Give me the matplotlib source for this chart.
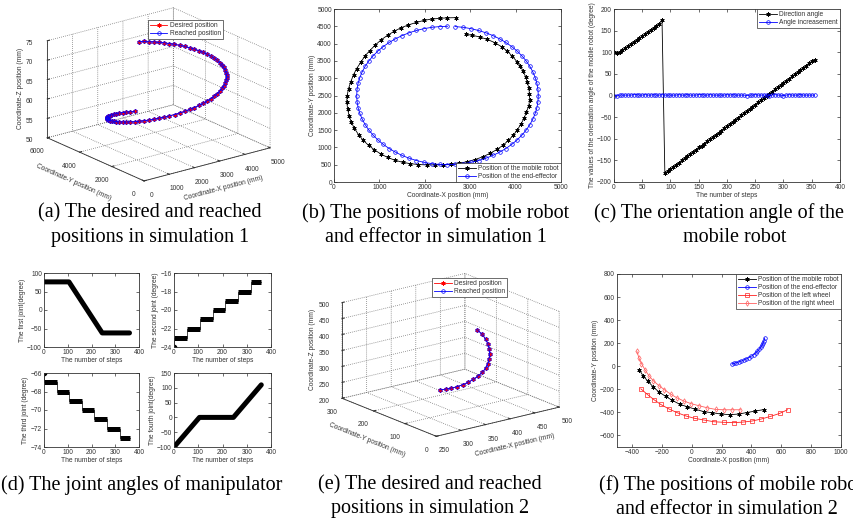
import numpy as np
import matplotlib
matplotlib.use('Agg')
import matplotlib.pyplot as plt

plt.rcParams['font.family'] = ['Liberation Sans', 'DejaVu Sans']
plt.rcParams['font.size'] = 4.8
plt.rcParams['axes.linewidth'] = 0.6
plt.rcParams['grid.linestyle'] = ':'
plt.rcParams['grid.linewidth'] = 0.5
plt.rcParams['grid.color'] = '#777777'

TXT = '#333333'

# (b) mobile robot path, simulation 1 (mm)
robot1_x = [2680, 2500, 2330, 2150, 1980, 1810, 1640, 1480, 1330, 1180, 1040, 910, 790, 680,
            590, 500, 430, 370, 320, 290, 280, 300, 330, 380, 450, 540, 640, 760, 890, 1030,
            1180, 1340, 1510, 1680, 1860, 2040, 2220, 2400, 2580, 2760, 2940, 3110, 3280, 3440,
            3590, 3720, 3840, 3950, 4040, 4120, 4190, 4240, 4290, 4310, 4305, 4290, 4260, 4220,
            4170, 4100, 4030, 3930, 3820, 3690, 3545, 3380, 3210, 3050, 2900]
robot1_y = [4750, 4745, 4730, 4710, 4670, 4610, 4540, 4460, 4360, 4240, 4110, 3960, 3800, 3640,
            3460, 3280, 3100, 2900, 2700, 2500, 2320, 2120, 1920, 1730, 1550, 1370, 1210, 1060,
            930, 810, 710, 630, 570, 530, 505, 495, 495, 500, 510, 540, 590, 650, 730, 830, 940,
            1060, 1200, 1350, 1510, 1680, 1850, 2030, 2200, 2380, 2550, 2720, 2880, 3040, 3200,
            3350, 3480, 3630, 3780, 3910, 4025, 4120, 4190, 4240, 4270]

# (b) end-effector path, simulation 1 (mm)
eff1_x = [2500, 2326, 2153, 1982, 1816, 1655, 1500, 1353, 1214, 1086, 968, 862, 768, 687, 621,
          568, 530, 508, 500, 508, 530, 568, 621, 687, 768, 862, 968, 1086, 1214, 1353, 1500,
          1655, 1816, 1982, 2153, 2326, 2500, 2674, 2847, 3018, 3184, 3345, 3500, 3647, 3786,
          3914, 4032, 4138, 4232, 4313, 4379, 4432, 4470, 4492, 4500, 4492, 4470, 4432, 4379,
          4313, 4232, 4138, 4032, 3914, 3786, 3647, 3500, 3345, 3184, 3018, 2847, 2674]
eff1_y = [4500, 4492, 4470, 4432, 4379, 4313, 4232, 4138, 4032, 3914, 3786, 3647, 3500, 3345,
          3184, 3018, 2847, 2674, 2500, 2326, 2153, 1982, 1816, 1655, 1500, 1353, 1214, 1086,
          968, 862, 768, 687, 621, 568, 530, 508, 500, 508, 530, 568, 621, 687, 768, 862, 968,
          1086, 1214, 1353, 1500, 1655, 1816, 1982, 2153, 2326, 2500, 2674, 2847, 3018, 3184,
          3345, 3500, 3647, 3786, 3914, 4032, 4138, 4232, 4313, 4379, 4432, 4470, 4492]

# (a) height of the desired / reached path (mm), in reversed order of eff1
sim1_z = [73.0, 72.8, 72.5, 72.3, 72.0, 71.8, 71.5, 71.3, 71.0, 70.8, 70.5, 70.3, 70.0, 69.8,
          69.5, 69.3, 69.0, 68.8, 68.5, 68.3, 68.0, 67.8, 67.5, 67.3, 67.0, 66.8, 66.5, 66.3,
          66.0, 65.8, 65.5, 65.3, 65.0, 64.8, 64.5, 64.3, 64.0, 63.8, 63.5, 63.3, 63.0, 62.8,
          62.5, 62.3, 62.0, 61.8, 61.5, 61.3, 61.0, 60.8, 60.5, 60.3, 60.0, 59.8, 59.5, 59.3,
          59.0, 58.8, 58.5, 58.3, 58.0, 57.8, 57.5, 57.3, 57.0, 56.8, 56.5, 56.3, 56.0, 55.8,
          55.5, 55.3]

# (c) orientation angle
steps_c = [0, 5, 10, 15, 20, 25, 30, 35, 40, 45, 50, 55, 60, 65, 70, 75, 80, 85, 90, 95, 100,
           105, 110, 115, 120, 125, 130, 135, 140, 145, 150, 155, 160, 165, 170, 175, 180, 185,
           190, 195, 200, 205, 210, 215, 220, 225, 230, 235, 240, 245, 250, 255, 260, 265, 270,
           275, 280, 285, 290, 295, 300, 305, 310, 315, 320, 325, 330, 335, 340, 345, 350, 355]
direction_angle = [100, 99, 100, 105, 110, 114, 119, 124, 128, 133, 137, 142, 147, 151, 156,
                   161, 166, 175, -180, -175, -170, -165, -160, -155, -150, -145, -140, -135,
                   -130, -125, -120, -116, -111, -106, -101, -96, -91, -86, -81, -76, -71, -66,
                   -61, -56, -51, -46, -41, -36, -31, -26, -21, -16, -11, -6, -1, 4, 9, 14, 19,
                   24, 29, 34, 39, 44, 49, 54, 59, 64, 69, 74, 79, 83]
angle_incr = [0, 0, 1, 1, 1, 1, 1, 2, 2, 1, 1, 2, 1, 1, 2, 1, 1, 2, 1, 1, 1, 1, 1, 2, 1, 1, 2,
              1, 1, 1, 2, 2, 1, 1, 2, 1, 1, 1, 1, 1, 2, 1, 2, 1, 1, 1, 1, 0, 1, 1, 2, 1, 1, 1,
              1, 0, 1, 2, 1, 1, 0, 1, 2, 1, 1, 1, 2, 1, 1, 1, 1, 1]

# (d) joint angles (degree)
j1_steps = [0, 105, 245, 360]
j1_vals = [76, 76, -62, -62]
j2_start = [0, 55, 107, 160, 212, 265, 318]
j2_end = [55, 107, 160, 212, 265, 318, 360]
j2_level = [-23, -22, -21, -20, -19, -18, -17]
j2_first = -24
j3_start = [0, 55, 107, 160, 212, 265, 318]
j3_end = [55, 107, 160, 212, 265, 318, 360]
j3_level = [-67, -68, -69, -70, -71, -72, -73]
j3_first = -66
j4_steps = [0, 105, 245, 360]
j4_vals = [-100, 0, 0, 110]

# (f) simulation 2 paths (mm)
robot2_x = [-351, -324, -291, -256, -218, -173, -129, -78, -29, 20, 82, 138, 196, 256, 316,
            371, 427, 482]
robot2_y = [-29, -86, -132, -181, -224, -262, -296, -331, -351, -371, -394, -403, -414, -420,
            -414, -401, -388, -376]
eff2_x = [271, 285, 300, 316, 333, 350, 367, 384, 400, 415, 428, 440, 452, 462, 471, 478, 484,
          489]
eff2_y = [20, 25, 31, 38, 46, 55, 65, 76, 88, 101, 115, 130, 146, 163, 181, 200, 220, 245]
left_x = [-340, -296, -251, -207, -151, -96, -36, 22, 82, 149, 216, 282, 344, 404, 464, 527,
          589, 642]
left_y = [-196, -245, -291, -331, -371, -403, -432, -452, -466, -481, -486, -489, -484, -475,
          -458, -435, -409, -377]
right_x = [-367, -353, -336, -313, -287, -256, -220, -182, -140, -100, -51, -2, 49, 104, 160,
           216, 271, 327]
right_y = [130, 72, 23, -29, -81, -127, -167, -204, -242, -273, -302, -325, -342, -360, -374,
           -377, -377, -377]

# (e) height of simulation 2 path (mm)
sim2_z = [330, 325, 320, 316, 313, 311, 310, 310, 311, 313, 316, 320, 325, 330, 336, 342, 347,
          350]

STAR = (6, 2, 0)


def style2d(ax):
    ax.tick_params(direction='in', top=True, right=True, length=2, width=0.5, pad=1.5,
                   colors=TXT, labelsize=4.8)
    for s in ax.spines.values():
        s.set_color(TXT)
        s.set_linewidth(0.6)


def style3d(ax):
    ax.patch.set_alpha(0)
    for axis in (ax.xaxis, ax.yaxis, ax.zaxis):
        axis.set_pane_color((1, 1, 1, 0))
        axis.pane.set_edgecolor(TXT)
        axis.line.set_color(TXT)
        axis.line.set_linewidth(0.6)
        axis._axinfo['grid'].update(color='#666666', linestyle=':', linewidth=0.55)
        axis._axinfo['tick']['inward_factor'] = 0.0
        axis._axinfo['tick']['outward_factor'] = 0.2
    ax.tick_params(labelsize=4.8, pad=-2, colors=TXT)


def leg(ax, loc, anchor=None):
    kw = dict(loc=loc, fontsize=4.8, frameon=True, fancybox=False, framealpha=1,
              edgecolor=TXT, borderpad=0.3, labelspacing=0.15, handlelength=2.6,
              handletextpad=0.4, borderaxespad=0)
    if anchor is not None:
        kw['bbox_to_anchor'] = anchor
    lg = ax.legend(**kw)
    lg.get_frame().set_linewidth(0.5)
    for t in lg.get_texts():
        t.set_color(TXT)
    return lg


fig = plt.figure(figsize=(8.54, 5.22), dpi=100)
W, H = 854.0, 522.0


def rect(l, t, r, b):
    return [l / W, 1 - b / H, (r - l) / W, (b - t) / H]


# ---- (a) 3D simulation 1
axa = fig.add_axes(rect(11, -3, 301, 197), projection='3d', proj_type='ortho')
axa.view_init(elev=20, azim=-127.5)
axa.set_box_aspect((4, 4, 2.6), zoom=1.2)
ax_x = eff1_x[::-1]
ax_y = eff1_y[::-1]
axa.plot(ax_x, ax_y, sim1_z, color='red', lw=0.6, marker=STAR, ms=3, mew=0.6,
         label='Desired position')
axa.plot(ax_x, ax_y, sim1_z, color='blue', lw=0.6, marker='o', ms=2.6, mfc='none', mew=0.5,
         label='Reached position')
axa.set_xlim(0, 5000)
axa.set_ylim(0, 6000)
axa.set_zlim(50, 75)
axa.set_xticks([0, 1000, 2000, 3000, 4000, 5000])
axa.set_yticks([0, 2000, 4000, 6000])
axa.set_zticks([50, 55, 60, 65, 70, 75])
axa.set_xlabel('Coordinate-X position (mm)', labelpad=-8, color=TXT)
axa.set_ylabel('Coordinate-Y position (mm)', labelpad=-8, color=TXT)
axa.set_zlabel('Coordinate-Z position (mm)', labelpad=-12, color=TXT)
style3d(axa)
leg(axa, 'upper right', (0.835, 0.885))

# ---- (b) positions in simulation 1
axb = fig.add_axes(rect(334, 9, 561, 182))
axb.plot(robot1_x, robot1_y, color='black', lw=0.6, marker=STAR, ms=3, mew=0.6,
         label='Position of the mobile robot')
axb.plot(eff1_x, eff1_y, color='blue', lw=0.6, marker='o', ms=2.6, mfc='none', mew=0.5,
         label='Position of the end-effector')
axb.set_xlim(0, 5000)
axb.set_ylim(0, 5000)
axb.set_xticks([0, 1000, 2000, 3000, 4000, 5000])
axb.set_yticks(range(0, 5001, 500))
axb.set_xlabel('Coordinate-X position (mm)', labelpad=1, color=TXT)
axb.set_ylabel('Coordinate-Y position (mm)', labelpad=1, color=TXT)
style2d(axb)
leg(axb, 'lower right')

# ---- (c) orientation angle
axc = fig.add_axes(rect(614, 9, 840, 182))
axc.plot(steps_c, direction_angle, color='black', lw=0.6, marker=STAR, ms=3, mew=0.6,
         label='Direction angle')
axc.plot(steps_c, angle_incr, color='blue', lw=0.6, marker='o', ms=2.6, mfc='none', mew=0.5,
         label='Angle increasement')
axc.set_xlim(0, 400)
axc.set_ylim(-200, 200)
axc.set_xticks(range(0, 401, 50))
axc.set_yticks(range(-200, 201, 50))
axc.set_xlabel('The number of steps', labelpad=1, color=TXT)
axc.set_ylabel('The values of the orientation angle of the mobile robot (degree)',
               labelpad=1, color=TXT)
style2d(axc)
leg(axc, 'upper right')

# ---- (d) joint angles
d1 = fig.add_axes(rect(44, 273, 139, 347))
d2 = fig.add_axes(rect(174, 273, 271, 347))
d3 = fig.add_axes(rect(44, 373, 139, 447))
d4 = fig.add_axes(rect(174, 373, 271, 447))

d1.plot(j1_steps, j1_vals, color='black', lw=3.6, solid_capstyle='round')
d4.plot(j4_steps, j4_vals, color='black', lw=3.6, solid_capstyle='round')
for ax, st, en, lv, first in ((d2, j2_start, j2_end, j2_level, j2_first),
                              (d3, j3_start, j3_end, j3_level, j3_first)):
    ax.step([0] + st + [en[-1]], [first] + lv + [lv[-1]], where='post', color='black', lw=0.5)
    ax.hlines(lv, st, en, color='black', lw=3.6)
    ax.plot([0], [first], 'o', color='black', ms=3)

d1.set_ylim(-100, 100)
d1.set_yticks([-100, -50, 0, 50, 100])
d2.set_ylim(-24, -16)
d2.set_yticks([-24, -22, -20, -18, -16])
d3.set_ylim(-74, -66)
d3.set_yticks([-74, -72, -70, -68, -66])
d4.set_ylim(-100, 150)
d4.set_yticks([-100, -50, 0, 50, 100, 150])
ylabs = ['The first joint(degree)', 'The second joint (degree)',
         'The third joint (degree)', 'The fourth joint(degree)']
for ax, yl in zip((d1, d2, d3, d4), ylabs):
    ax.set_xlim(0, 400)
    ax.set_xticks([0, 100, 200, 300, 400])
    ax.set_xlabel('The number of steps', labelpad=1, color=TXT)
    ax.set_ylabel(yl, labelpad=1, color=TXT)
    style2d(ax)

# ---- (e) 3D simulation 2
axe = fig.add_axes(rect(303, 260, 593, 455), projection='3d', proj_type='ortho')
axe.view_init(elev=18, azim=-127.5)
axe.set_box_aspect((4, 4, 2.6), zoom=1.2)
axe.plot(eff2_x, eff2_y, sim2_z, color='red', lw=0.6, marker=STAR, ms=3, mew=0.6,
         label='Desired position')
axe.plot(eff2_x, eff2_y, sim2_z, color='blue', lw=0.6, marker='o', ms=2.6, mfc='none',
         mew=0.5, label='Reached position')
axe.set_xlim(250, 500)
axe.set_ylim(0, 300)
axe.set_zlim(200, 500)
axe.set_xticks([250, 300, 350, 400, 450, 500])
axe.set_yticks([0, 100, 200, 300])
axe.set_zticks([200, 250, 300, 350, 400, 450, 500])
axe.set_xlabel('Coordinate-X position (mm)', labelpad=-8, color=TXT)
axe.set_ylabel('Coordinate-Y position (mm)', labelpad=-8, color=TXT)
axe.set_zlabel('Coordinate-Z position (mm)', labelpad=-11, color=TXT)
style3d(axe)
leg(axe, 'upper right', (0.805, 0.908))

# ---- (f) positions in simulation 2
axf = fig.add_axes(rect(617, 274, 841, 447))
axf.plot(robot2_x, robot2_y, color='black', lw=0.6, marker=STAR, ms=3, mew=0.6,
         label='Position of the mobile robot')
axf.plot(eff2_x, eff2_y, color='blue', lw=0.6, marker='o', ms=2.6, mfc='none', mew=0.5,
         label='Position of the end-effector')
axf.plot(left_x, left_y, color='#ff2020', lw=0.6, marker='s', ms=3, mfc='none', mew=0.5,
         label='Position of the left wheel')
axf.plot(right_x, right_y, color='#ff6060', lw=0.6, marker='d', ms=2.8, mfc='none', mew=0.5,
         label='Position of the right wheel')
axf.set_xlim(-500, 1000)
axf.set_ylim(-700, 800)
axf.set_xticks(range(-400, 1001, 200))
axf.set_yticks(range(-600, 801, 200))
axf.set_xlabel('Coordinate-X position (mm)', labelpad=1, color=TXT)
axf.set_ylabel('Coordinate-Y position (mm)', labelpad=1, color=TXT)
style2d(axf)
leg(axf, 'upper right')

# ---- captions
cap = dict(family=['Liberation Serif', 'DejaVu Serif'], fontsize=14.5, ha='center',
           va='center', color='black')
captions = [
    (150, 213, '(a) The desired and reached'),
    (150, 237, 'positions in simulation 1'),
    (436, 213, '(b) The positions of mobile robot'),
    (436, 237, 'and effector in simulation 1'),
    (719, 213, '(c) The orientation angle of the'),
    (735, 237, 'mobile robot'),
    (142, 485, '(d) The joint angles of manipulator'),
    (430, 485, '(e) The desired and reached'),
    (430, 509, 'positions in simulation 2'),
    (731, 485, '(f) The positions of mobile robot'),
    (727, 509, 'and effector in simulation 2'),
]
for x, y, s in captions:
    fig.text(x / W, 1 - y / H, s, **cap)

fig.savefig('out.png', dpi=100, facecolor='white')
